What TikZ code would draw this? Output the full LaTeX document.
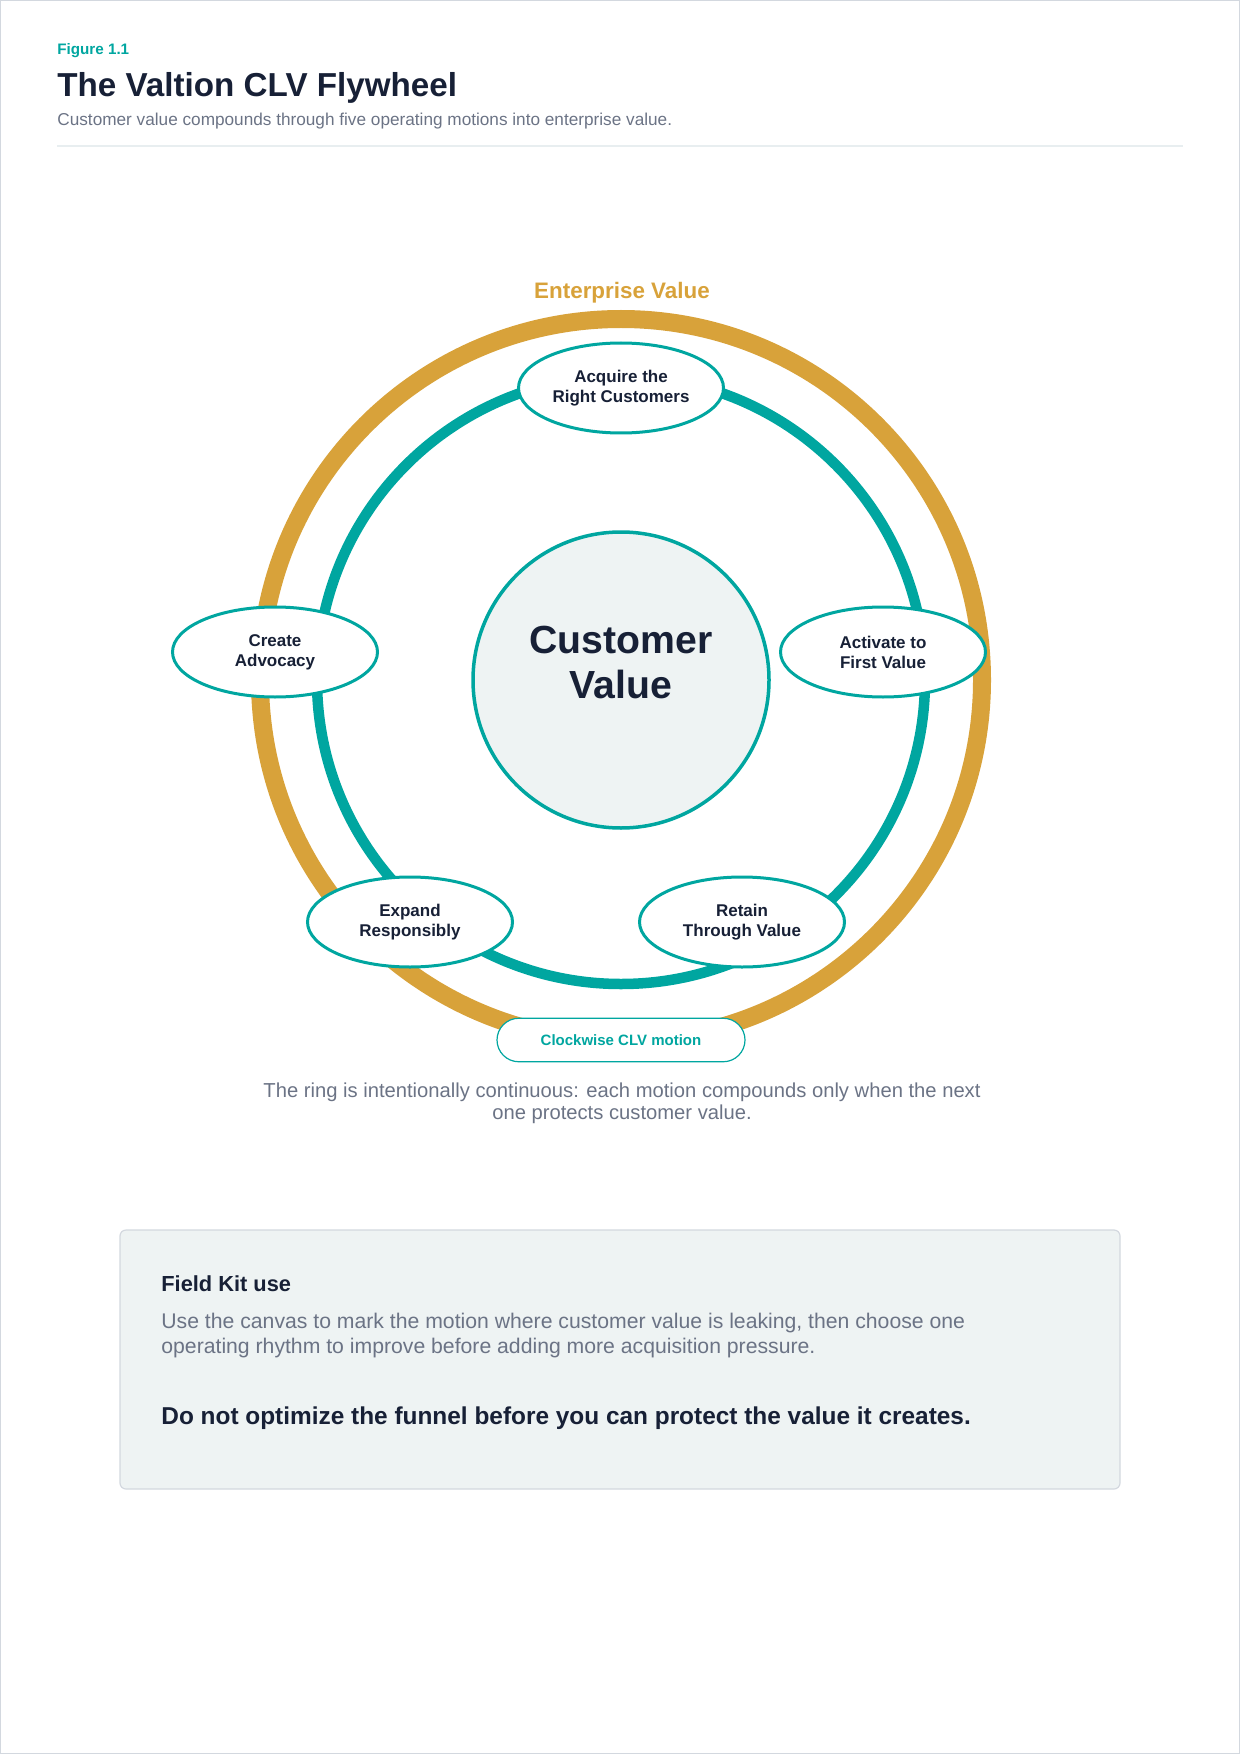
\documentclass[tikz,border=0pt]{standalone}
\usepackage{fontspec}
\setmainfont{Liberation Sans}
\usetikzlibrary{shapes.geometric}

\definecolor{clvteal}{HTML}{00A6A0}
\definecolor{clvgold}{HTML}{D8A23A}
\definecolor{clvnavy}{HTML}{172036}
\definecolor{clvgray}{HTML}{6B7385}
\definecolor{clvmist}{HTML}{EEF3F3}
\definecolor{clvline}{HTML}{D3D8DF}
\definecolor{clvrule}{HTML}{E8EEF0}

\begin{document}
\begin{tikzpicture}[
        x=0.5pt, y=-0.5pt,
        motion/.style={ellipse, draw=clvteal, line width=1.5pt, fill=white, minimum width=102.5pt, minimum height=45pt, inner sep=0pt, align=center, text=clvnavy, font=\fontsize{8.5}{10}\selectfont\bfseries},
        hub/.style={circle, draw=clvteal, line width=1.75pt, fill=clvmist, minimum size=148pt, inner sep=0pt},
        pill/.style={rectangle, rounded corners=10.9pt, draw=clvteal, line width=0.6pt, fill=white, minimum width=124pt, minimum height=21.75pt, text=clvteal, font=\fontsize{7.5}{9}\selectfont\bfseries},
        panel/.style={rectangle, rounded corners=3pt, draw=clvline, line width=0.6pt, fill=clvmist, minimum width=500pt, minimum height=129.5pt},
        heading/.style={anchor=base west, inner sep=0pt, text=clvnavy, font=\fontsize{#1}{#1}\selectfont\bfseries},
        note/.style={inner sep=0pt, text=clvgray, font=\fontsize{10.1}{11}\selectfont}
    ]

        \useasboundingbox (0,0) rectangle (1240,1754);
        \draw[clvline, line width=0.5pt] (0.5,0.5) rectangle (1239.5,1753.5);

        % Header
        \node[anchor=base west, inner sep=0pt, text=clvteal, font=\fontsize{7.6}{8}\selectfont\bfseries] (figno) at (57,55) {Figure 1.1};
        \node[heading=16.6] (title) at (57,97) {The Valtion CLV Flywheel};
        \node[anchor=base west, inner sep=0pt, text=clvgray, font=\fontsize{8.6}{9}\selectfont] (subtitle) at (57,126) {Customer value compounds through five operating motions into enterprise value.};
        \draw[clvrule, line width=1pt] (57,146) -- (1183,146);

        % Rings: enterprise value outside, CLV motion inside
        \coordinate (hub) at (621,680);
        \draw[clvgold, line width=9pt] (hub) circle[radius=361];
        \draw[clvteal, line width=5.25pt] (hub) circle[radius=304];
        \node[hub] (core) at (hub) {};
        \node[align=center, inner sep=0pt, text=clvnavy, font=\fontsize{19.6}{22.5}\selectfont\bfseries, anchor=base] (coretext) at (621,698) {Customer\\Value};
        \node[inner sep=0pt, text=clvgold, font=\fontsize{11.2}{12}\selectfont\bfseries, anchor=base] (enterprise) at (622,299) {Enterprise Value};

        % Five motions
        \node[motion] (acquire) at (621,388) {Acquire the\\Right Customers};
        \node[motion] (activate) at (883,652) {Activate to\\First Value};
        \node[motion] (retain) at (742,922) {Retain\\Through Value};
        \node[motion] (expand) at (410,922) {Expand\\Responsibly};
        \node[motion] (create) at (275,652) {Create\\Advocacy};

        \node[pill] (clockwise) at (621,1040) {Clockwise CLV motion};

        % Caption
        \node[note, align=center, anchor=base] (caption) at (622,1119) {The ring is intentionally continuous: each motion compounds only when the next\\one protects customer value.};

        % Field kit panel
        \node[panel] (fieldkit) at (620,1359.5) {};
        \node[heading=10.9] (kithead) at (161,1291) {Field Kit use};
        \node[note, align=left, anchor=base west, font=\fontsize{10.6}{12.25}\selectfont] (kitbody) at (161,1353) {Use the canvas to mark the motion where customer value is leaking, then choose one\\operating rhythm to improve before adding more acquisition pressure.};
        \node[heading=12.2] (kitrule) at (161,1424) {Do not optimize the funnel before you can protect the value it creates.};

    \end{tikzpicture}
\end{document}
